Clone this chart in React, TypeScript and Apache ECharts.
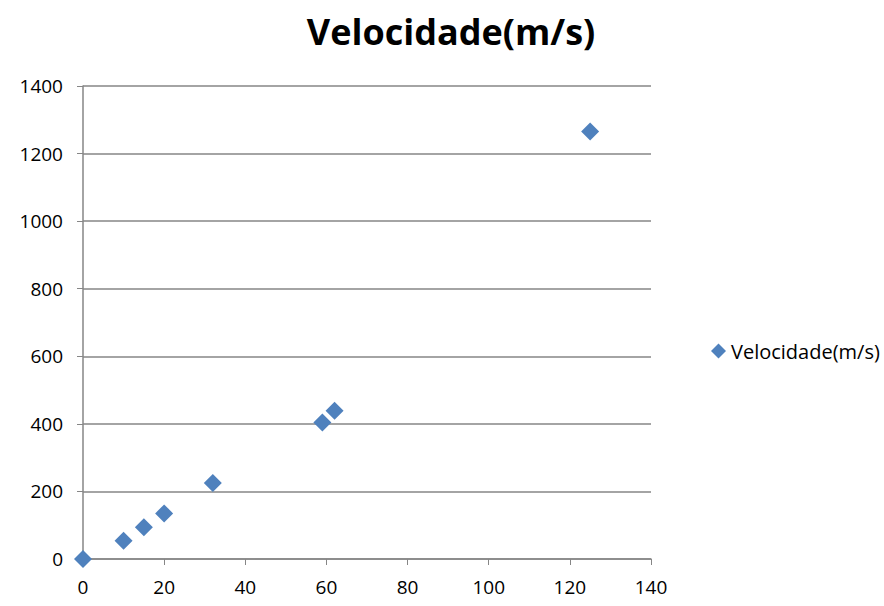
import React, { useEffect, useRef } from "react";
import * as echarts from "echarts";

const seriesName = "Velocidade(m/s)";
const xValues = [0, 10, 15, 20, 32, 59, 62, 125];
const yValues = [0, 54, 94, 135, 225, 404, 439, 1265];

export default function App() {
  const ref = useRef<HTMLDivElement>(null);
  useEffect(() => {
    document.body.style.margin = "0";
    if (!ref.current) return;
    const chart = echarts.init(ref.current, null, { renderer: "svg" });
    const font = "'Open Sans', 'DejaVu Sans', sans-serif";
    chart.setOption({
      animation: false,
      textStyle: { fontFamily: font },
      title: {
        text: seriesName,
        left: 446,
        textAlign: "center",
        top: 8,
        textStyle: { fontSize: 36, fontWeight: "bold", color: "#000", fontFamily: font },
      },
      legend: {
        orient: "vertical",
        left: 706,
        top: 336,
        itemWidth: 15,
        itemHeight: 15,
        itemGap: 4,
        icon: "diamond",
        textStyle: { fontSize: 20, color: "#000", fontFamily: font },
        data: [seriesName],
      },
      grid: { left: 83, right: 233, top: 86, bottom: 47, containLabel: false },
      xAxis: {
        type: "value",
        min: 0,
        max: 140,
        interval: 20,
        axisLine: { show: true, onZero: false, lineStyle: { color: "#868686", width: 1.5 } },
        axisTick: { show: true, length: 6, inside: false, lineStyle: { color: "#868686" } },
        axisLabel: { fontSize: 19, color: "#000", margin: 18 },
        splitLine: { show: false },
      },
      yAxis: {
        type: "value",
        min: 0,
        max: 1400,
        interval: 200,
        axisLine: { show: true, onZero: false, lineStyle: { color: "#868686", width: 1.5 } },
        axisTick: { show: true, length: 6, lineStyle: { color: "#868686" } },
        axisLabel: { fontSize: 19, color: "#000", margin: 20, formatter: (v: number) => String(v) },
        splitLine: { show: true, lineStyle: { color: "#868686", width: 1.5 } },
      },
      series: [
        {
          name: seriesName,
          type: "scatter",
          symbol: "diamond",
          symbolSize: 18,
          itemStyle: { color: "#4F81BD", opacity: 1 },
          data: xValues.map((x, i) => [x, yValues[i]]),
        },
      ],
    });
    return () => chart.dispose();
  }, []);
  return <div ref={ref} style={{ width: 884, height: 606 }} />;
}
